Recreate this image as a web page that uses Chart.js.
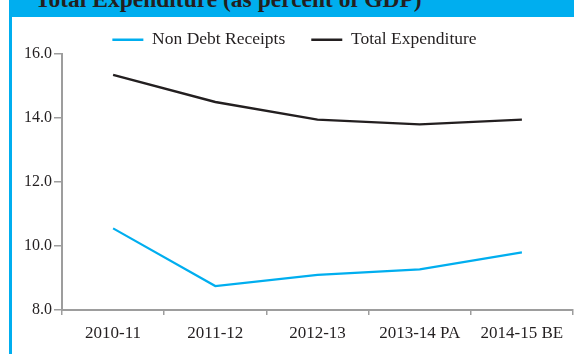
<!DOCTYPE html>
<html>
<head>
<meta charset="utf-8">
<script src="https://cdn.jsdelivr.net/npm/chart.js@4"></script>
<style>
  html, body { margin: 0; padding: 0; background: #ffffff; }
  #wrap { position: relative; width: 574px; height: 354px; overflow: hidden; background: #fff; }
  #chart { position: absolute; left: 0; top: 0; }
  #band { position: absolute; left: 9px; top: 0; width: 565px; height: 17px; background: #00aeef; overflow: hidden; z-index: 2; }
  #title { position: absolute; left: 26px; top: -12px; font: bold 23.5px/23.5px "Liberation Serif", "Times New Roman", serif; color: #231f20; white-space: nowrap; }
  #border { position: absolute; left: 9px; top: 0; width: 2.5px; height: 354px; background: #00aeef; z-index: 2; }
</style>
</head>
<body>
<div id="wrap">
  <canvas id="chart" width="574" height="354"></canvas>
  <div id="band"><div id="title">Total Expenditure (as percent of GDP)</div></div>
  <div id="border"></div>
</div>
<script>
const categories = ['2010-11', '2011-12', '2012-13', '2013-14 PA', '2014-15 BE'];
const nonDebtReceipts = [10.55, 8.75, 9.1, 9.27, 9.8];
const totalExpenditure = [15.35, 14.5, 13.95, 13.8, 13.95];
const yMin = 8, yMax = 16, yStep = 2;

const INK = '#231f20';
const AXIS = '#9d9d9d';
const FONT = '"Liberation Serif", "Times New Roman", serif';

const legendFix = {
  id: 'legendFix',
  beforeLayout(chart) {
    const lg = chart.legend;
    if (lg && !lg._fixed) {
      const orig = lg.fit;
      lg.fit = function () { orig.call(this); this.height = 49; };
      lg._fixed = true;
    }
  }
};

new Chart(document.getElementById('chart'), {
  type: 'line',
  data: {
    labels: categories,
    datasets: [
      { label: 'Non Debt Receipts', data: nonDebtReceipts, borderColor: '#00aeef', backgroundColor: '#00aeef', borderWidth: 2.2, pointRadius: 0, tension: 0 },
      { label: 'Total Expenditure', data: totalExpenditure, borderColor: INK, backgroundColor: INK, borderWidth: 2.4, pointRadius: 0, tension: 0 }
    ]
  },
  plugins: [legendFix],
  options: {
    responsive: false,
    animation: false,
    devicePixelRatio: 1,
    layout: { padding: { left: 16, right: 1, top: 5, bottom: 0 } },
    plugins: {
      legend: {
        position: 'top',
        labels: {
          color: INK,
          font: { family: FONT, size: 17.5 },
          boxWidth: 31,
          boxHeight: 2.5,
          padding: 26,
          generateLabels(chart) {
            const items = Chart.defaults.plugins.legend.labels.generateLabels(chart);
            items.forEach(it => { it.lineWidth = 0; });
            return items;
          }
        }
      },
      tooltip: { enabled: false }
    },
    scales: {
      x: {
        offset: true,
        grid: { offset: true, drawOnChartArea: false, tickLength: 5, color: AXIS, lineWidth: 1.5 },
        border: { color: AXIS, width: 2 },
        ticks: { color: INK, font: { family: FONT, size: 17 }, padding: 8, maxRotation: 0, autoSkip: false },
        afterFit(s) { s.height = 44; }
      },
      y: {
        min: yMin,
        max: yMax,
        grid: { drawOnChartArea: false, tickLength: 8, color: AXIS, lineWidth: 1.5 },
        border: { color: AXIS, width: 2 },
        ticks: { stepSize: yStep, color: INK, font: { family: FONT, size: 16 }, padding: 2, callback: v => v.toFixed(1) },
        afterFit(s) { s.width = 46; }
      }
    }
  }
});
</script>
</body>
</html>
